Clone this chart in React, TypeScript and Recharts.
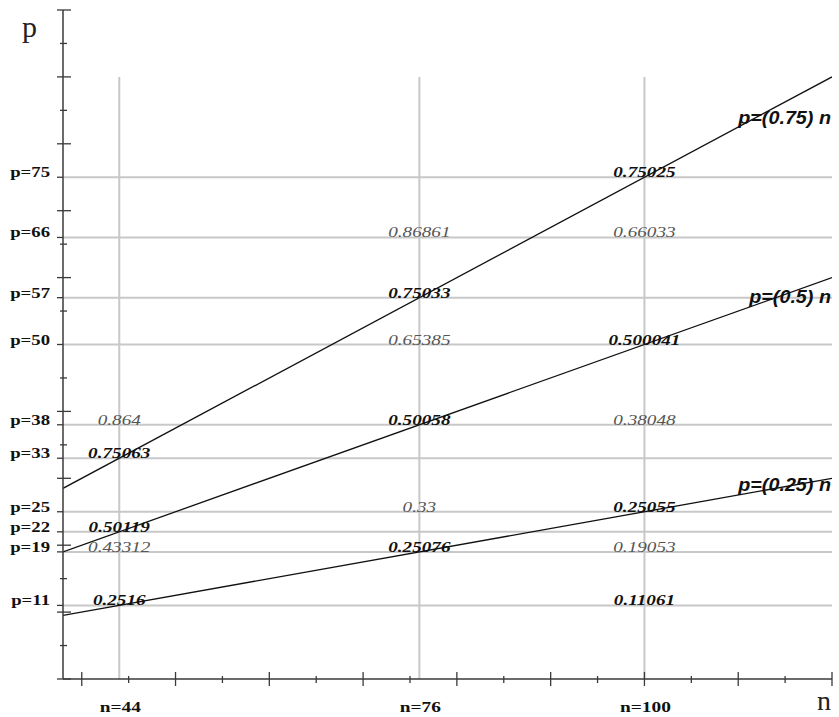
import React from 'react';
import { ComposedChart, Line, Scatter, XAxis, YAxis, ReferenceLine } from 'recharts';

// ---- data ----
const nDomain = [38, 120];
const pDomain = [0, 100];
const lineN = [38, 120];
const lineP75 = [28.5, 90];
const lineP50 = [19, 60];
const lineP25 = [9.5, 30];
const lineNames = ['p=(0.75) n', 'p=(0.5) n', 'p=(0.25) n'];

const pGrid = [75, 66, 57, 50, 38, 33, 25, 22, 19, 11];
const nGrid = [44, 76, 100];
const nTickMarks = [40, 45, 50, 55, 60, 65, 70, 75, 80, 85, 90, 95, 100, 105, 110, 115, 120];
const pTickMarks = [0, 5, 10, 15, 20, 25, 30, 35, 40, 45, 50, 55, 60, 65, 70, 75, 80, 85, 90, 95, 100];

const cellN = [44, 44, 44, 44, 44, 76, 76, 76, 76, 76, 76, 100, 100, 100, 100, 100, 100, 100];
const cellP = [38, 33, 22, 19, 11, 66, 57, 50, 38, 25, 19, 75, 66, 50, 38, 25, 19, 11];
const cellText = [
  '0.864', '0.75063', '0.50119', '0.43312', '0.2516',
  '0.86861', '0.75033', '0.65385', '0.50058', '0.33', '0.25076',
  '0.75025', '0.66033', '0.500041', '0.38048', '0.25055', '0.19053', '0.11061',
];
const cellBold = [
  false, true, true, false, true,
  false, true, false, true, false, true,
  true, false, true, false, true, false, true,
];

// ---- derived tables ----
const lineData = lineN.map((n, i) => ({ n, p75: lineP75[i], p50: lineP50[i], p25: lineP25[i] }));
const cellData = cellN.map((n, i) => ({ n, p: cellP[i], text: cellText[i], bold: cellBold[i] }));
const xTicks = Array.from(new Set([...nTickMarks, ...nGrid])).sort((a, b) => a - b);
const yTicks = Array.from(new Set([...pTickMarks, ...pGrid])).sort((a, b) => a - b);

const SERIF = '"Liberation Serif", "Times New Roman", serif';
const SANS = '"Liberation Sans", Arial, sans-serif';
const AXIS = '#3a3a3a';
const GRID = '#c8c8c8';

const SText = ({ x, y, sx, children, ...rest }: any) => (
  <g transform={`translate(${x} ${y}) scale(${sx} 1)`}>
    <text x={0} y={0} {...rest}>
      {children}
    </text>
  </g>
);

const YTick = (props: any) => {
  const { x, y, payload } = props;
  const v = payload.value;
  if (pGrid.includes(v)) {
    return (
      <g>
        <line x1={x - 6} x2={x} y1={y} y2={y} stroke={AXIS} strokeWidth={1.3} />
        <SText x={x - 13} y={y} sx={1.25} textAnchor="end" fontFamily={SERIF} fontWeight="bold" fontSize={15} fill="#111">
          {'p=' + v}
        </SText>
      </g>
    );
  }
  if (v % 10 === 0) {
    return <line x1={x - 6} x2={x + 8} y1={y} y2={y} stroke={AXIS} strokeWidth={1.3} />;
  }
  return <line x1={x - 3} x2={x + 4} y1={y} y2={y} stroke={AXIS} strokeWidth={1.3} />;
};

const XTick = (props: any) => {
  const { x, y, payload } = props;
  const v = payload.value;
  return (
    <g>
      {v % 10 === 0 && <line x1={x} x2={x} y1={y - 7} y2={y + 7} stroke={AXIS} strokeWidth={1.3} />}
      {v % 10 !== 0 && v % 5 === 0 && <line x1={x} x2={x} y1={y - 3} y2={y + 4} stroke={AXIS} strokeWidth={1.3} />}
      {nGrid.includes(v) && (
        <SText x={x + 1} y={y + 33} sx={1.25} textAnchor="middle" fontFamily={SERIF} fontWeight="bold" fontSize={15.5} fill="#111">
          {'n=' + v}
        </SText>
      )}
    </g>
  );
};

const lineLabel = (text: string, dy: number) => (props: any) => {
  const { x, y, index } = props;
  if (index !== lineN.length - 1) return null;
  return (
    <SText key={text} x={x - 1} y={y + dy} sx={1.13} textAnchor="end" fontFamily={SANS} fontWeight="bold" fontStyle="italic" fontSize={17.5} fill="#111">
      {text}
    </SText>
  );
};

const CellShape = (props: any) => {
  const { cx, cy, payload } = props;
  return (
    <SText
      x={cx}
      y={cy}
      sx={1.28}
      textAnchor="middle"
      fontFamily={SERIF}
      fontStyle="italic"
      fontWeight={payload.bold ? 'bold' : 'normal'}
      fontSize={15}
      fill={payload.bold ? '#111' : '#555'}
    >
      {payload.text}
    </SText>
  );
};

export default function App() {
  return (
    <div style={{ position: 'absolute', left: 0, top: 0, background: '#fff' }}>
      <ComposedChart width={839} height={717} margin={{ top: 10, right: 7, bottom: 37, left: 62 }}>
        {pGrid.map((p) => (
          <ReferenceLine key={'h' + p} y={p} stroke={GRID} strokeWidth={2} ifOverflow="visible" />
        ))}
        {nGrid.map((n) => (
          <ReferenceLine key={'v' + n} segment={[{ x: n, y: 0 }, { x: n, y: 90 }]} stroke={GRID} strokeWidth={2} ifOverflow="visible" />
        ))}
        <XAxis
          type="number"
          dataKey="n"
          domain={nDomain}
          ticks={xTicks}
          interval={0}
          height={1}
          tickSize={0}
          tickMargin={0}
          tickLine={false}
          tick={<XTick />}
          axisLine={{ stroke: AXIS, strokeWidth: 1.5 }}
          allowDataOverflow
          label={{
            content: (p: any) => (
              <text x={p.viewBox.x + p.viewBox.width - 15} y={p.viewBox.y + 31} fontFamily={SERIF} fontSize={28} fill="#222">
                n
              </text>
            ),
          }}
        />
        <YAxis
          type="number"
          dataKey="p"
          domain={pDomain}
          ticks={yTicks}
          interval={0}
          width={1}
          tickSize={0}
          tickMargin={0}
          tickLine={false}
          tick={<YTick />}
          axisLine={{ stroke: AXIS, strokeWidth: 1.5 }}
          allowDataOverflow
          label={{
            content: (p: any) => (
              <text x={p.viewBox.x - 40} y={p.viewBox.y + 27} fontFamily={SERIF} fontSize={30} fill="#222">
                p
              </text>
            ),
          }}
        />
        <Line data={lineData} dataKey="p75" stroke="#111" strokeWidth={1.3} dot={false} isAnimationActive={false} label={lineLabel(lineNames[0], 47)} />
        <Line data={lineData} dataKey="p50" stroke="#111" strokeWidth={1.3} dot={false} isAnimationActive={false} label={lineLabel(lineNames[1], 25)} />
        <Line data={lineData} dataKey="p25" stroke="#111" strokeWidth={1.3} dot={false} isAnimationActive={false} label={lineLabel(lineNames[2], 13)} />
        <Scatter data={cellData} dataKey="p" shape={<CellShape />} isAnimationActive={false} />
      </ComposedChart>
    </div>
  );
}
